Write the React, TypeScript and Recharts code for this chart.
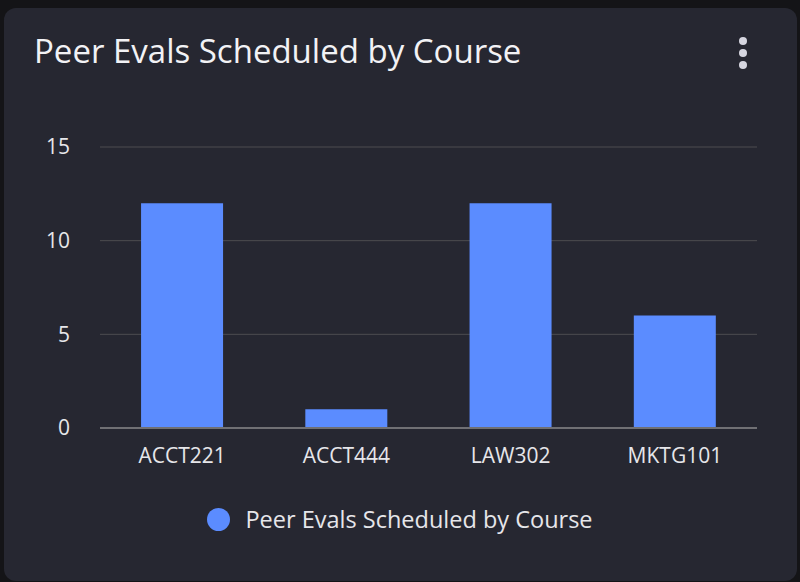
import React from "react";
import { BarChart, Bar, XAxis, YAxis, CartesianGrid, Legend } from "recharts";

const courses = ["ACCT221", "ACCT444", "LAW302", "MKTG101"];
const evalCounts = [12, 1, 12, 6];
const yTicks = [0, 5, 10, 15];
const seriesName = "Peer Evals Scheduled by Course";
const chartTitle = "Peer Evals Scheduled by Course";

const data = courses.map((c, i) => ({ course: c, value: evalCounts[i] }));

const FONT = "'Open Sans', 'Noto Sans', sans-serif";
const BAR = "#5b8cff";

const LegendContent = () => (
  <div style={{ display: "flex", justifyContent: "center", alignItems: "center", fontFamily: FONT }}>
    <span style={{ width: 23, height: 23, borderRadius: "50%", background: BAR, display: "inline-block", marginRight: 15 }} />
    <span style={{ color: "#e6e6ea", fontSize: 23.5 }}>{seriesName}</span>
  </div>
);

export default function App() {
  return (
    <div style={{ position: "fixed", left: 0, top: 0, width: 800, height: 582, background: "#141417", overflow: "hidden" }}>
      <div style={{ position: "absolute", left: 4, top: 8, width: 793, height: 573, background: "#262731", borderRadius: 12 }} />
      <div style={{ position: "absolute", left: 34, top: 26, fontFamily: FONT, fontSize: 33, color: "#f2f2f5", whiteSpace: "nowrap", lineHeight: "50px" }}>
        {chartTitle}
      </div>
      <div style={{ position: "absolute", left: 739, top: 37, width: 8, display: "flex", flexDirection: "column", gap: 4 }}>
        {[0, 1, 2].map((i) => (
          <span key={i} style={{ width: 8, height: 8, borderRadius: "50%", background: "#d6d6e0", display: "block" }} />
        ))}
      </div>
      <div style={{ position: "absolute", left: 0, top: 0 }}>
        <BarChart width={800} height={582} data={data} margin={{ top: 147, right: 43, bottom: 124, left: 0 }} barCategoryGap="25%">
          <CartesianGrid vertical={false} stroke="#4c4c50" strokeWidth={1} />
          <XAxis
            dataKey="course"
            height={30}
            tickSize={0}
            tickMargin={20}
            axisLine={{ stroke: "#707074", strokeWidth: 2 }}
            tick={{ fill: "#e6e6ea", fontSize: 21, fontFamily: FONT }}
          />
          <YAxis
            width={100}
            domain={[0, 15]}
            ticks={yTicks}
            tickSize={0}
            tickMargin={30}
            axisLine={false}
            tickLine={false}
            tick={{ fill: "#e6e6ea", fontSize: 21, fontFamily: FONT }}
          />
          <Legend layout="horizontal" verticalAlign="middle" align="center" wrapperStyle={{ top: 503, left: 0, width: 800 }} content={<LegendContent />} />
          <Bar dataKey="value" name={seriesName} fill={BAR} isAnimationActive={false} />
        </BarChart>
      </div>
    </div>
  );
}
